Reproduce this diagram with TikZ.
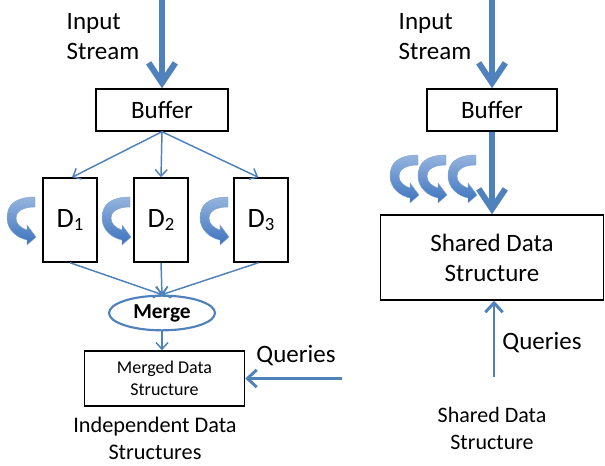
\documentclass[tikz,border=0pt]{standalone}
\usepackage{fontspec}
\setmainfont{Carlito}
\usetikzlibrary{arrows.meta,shapes.geometric}
\definecolor{ob}{RGB}{79,129,189}
\definecolor{arlight}{RGB}{150,180,222}
\definecolor{ardark}{RGB}{60,115,190}
\newcommand\bendarrow[2]{%
  \begin{scope}[shift={(#1,#2)}]
    \shade[top color=arlight,bottom color=ardark,draw=ob!70!white,line width=0.3pt]
      (28,0) .. controls (8,0) and (0,8) .. (0,21)
      .. controls (0,33) and (10,41) .. (20,43)
      -- (20,48) -- (29,40) -- (20,28) -- (20,33)
      .. controls (14,31) and (9,27) .. (9,21)
      .. controls (9,15) and (15,10) .. (28,10) -- cycle;
  \end{scope}}
\begin{document}
\begin{tikzpicture}[x=0.75pt,y=-0.75pt,
  box/.style={draw=black,line width=1.1pt,inner sep=0pt,align=center},
  conn/.style={draw=ob,line width=1.1pt,-{Straight Barb[length=5pt,width=9pt]}},
  fatarrow/.style={draw=ob,line width=4.5pt,-{Straight Barb[length=15pt,width=20pt]}},
  qarrow/.style={draw=ob,line width=2.2pt,-{Straight Barb[length=7pt,width=13pt]}},
  big/.style={font=\fontsize{18.75}{22.5}\selectfont},
  dfont/.style={font=\fontsize{21}{24}\selectfont},
]
\useasboundingbox (0,0) rectangle (605,466);

% ---------- left part ----------
\node[big,align=left,anchor=west] (in1) at (62,37) {Input\\Stream};
\node[box,big,minimum width=99pt,minimum height=31.5pt] (buf1) at (162,110) {Buffer};
\coordinate (s1) at (162,0);
\draw[fatarrow] (s1) -- (buf1.north);

\node[box,dfont,minimum width=40.5pt,minimum height=63pt] (d1) at (70,220) {D\raisebox{-2.5pt}{\fontsize{14}{16}\selectfont 1}};
\node[box,dfont,minimum width=40.5pt,minimum height=63pt] (d2) at (161,220) {D\raisebox{-2.5pt}{\fontsize{14}{16}\selectfont 2}};
\node[box,dfont,minimum width=40.5pt,minimum height=63pt] (d3) at (261,220) {D\raisebox{-2.5pt}{\fontsize{14}{16}\selectfont 3}};

\draw[conn] (buf1.south) -- ([xshift=1.5pt]d1.north);
\draw[conn] (buf1.south) -- (d2.north);
\draw[conn] (buf1.south) -- ([xshift=-2pt]d3.north);

\bendarrow{7}{197}
\bendarrow{102}{197}
\bendarrow{200}{197}

\node[ellipse,draw=ob,line width=1.6pt,minimum width=79.5pt,minimum height=26pt,inner sep=0pt,
      font=\bfseries\fontsize{16}{19}\selectfont] (merge) at (162,313) {Merge};

\draw[conn] (d1.south) -- (merge.north);
\draw[conn] (d2.south) -- (merge.north);
\draw[conn] ([xshift=-2pt]d3.south) -- (merge.north);

\node[box,minimum width=120pt,minimum height=41.25pt,font=\fontsize{13.5}{16.5}\selectfont] (merged) at (164.5,378.5) {Merged Data\\Structure};
\draw[conn] (merge.south) -- (merge.south |- merged.north);

\coordinate (q1) at (342,378.5);
\draw[qarrow] (q1) -- (merged.east);
\node[big] (qt1) at (296,356) {Queries};

\node[align=center,font=\fontsize{16.7}{20.25}\selectfont] (ind) at (155,438) {Independent Data\\Structures};

% ---------- right part ----------
\node[big,align=left,anchor=west] (in2) at (394,37) {Input\\Stream};
\node[box,big,minimum width=97.5pt,minimum height=31.5pt] (buf2) at (492,110) {Buffer};
\coordinate (s2) at (492,0);
\draw[fatarrow] (s2) -- (buf2.north);

\node[box,big,minimum width=167pt,minimum height=63.75pt] (shared) at (492,257.5) {Shared Data\\Structure};
\draw[fatarrow] (buf2.south) -- (buf2.south |- shared.north);

\bendarrow{390}{155}
\bendarrow{418}{155}
\bendarrow{448}{155}

\coordinate (q2) at (494,377);
\draw[qarrow] (q2) -- (q2 |- shared.south);
\node[big] (qt2) at (542,343) {Queries};

\node[align=center,font=\fontsize{16.5}{20.25}\selectfont] (sds) at (492,428) {Shared Data\\Structure};
\end{tikzpicture}
\end{document}
